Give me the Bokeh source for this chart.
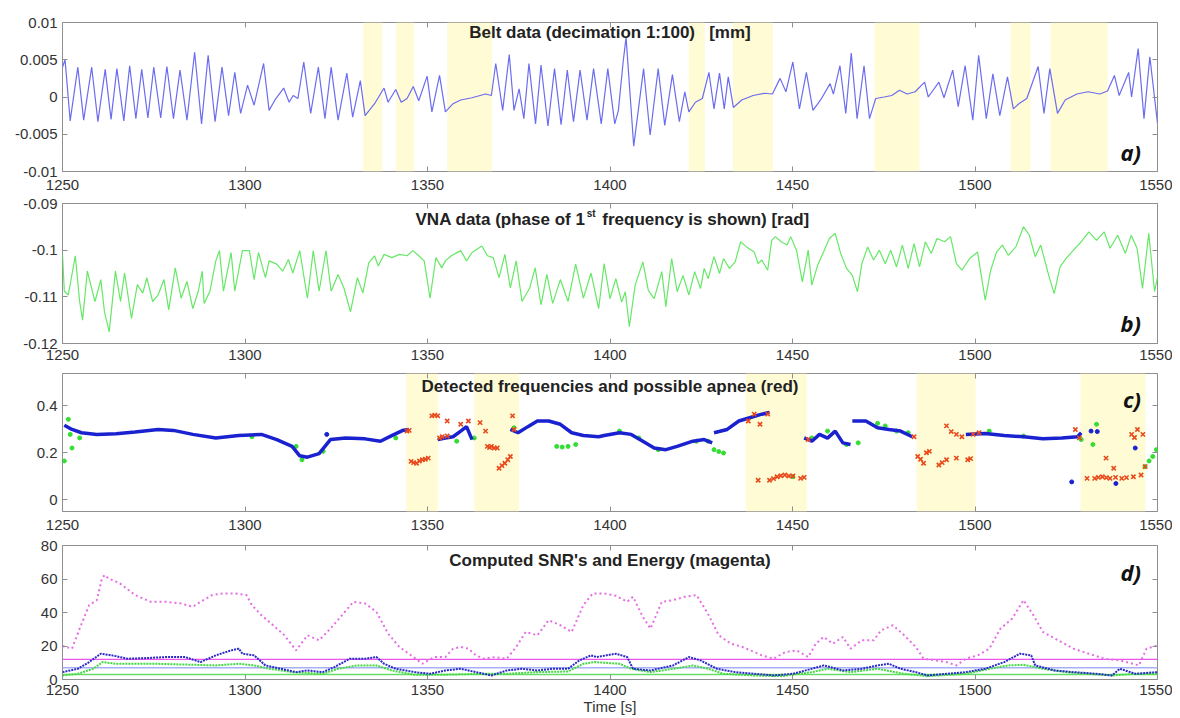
import math
from bokeh.plotting import figure
from bokeh.models import Range1d, FixedTicker, LinearAxis, BoxAnnotation, Label
from bokeh.layouts import column
from bokeh.embed import file_html
from bokeh.resources import INLINE

NAN = float("nan")
X_START, X_END = 1250, 1550
x_ticks = [1250, 1300, 1350, 1400, 1450, 1500, 1550]
x_label = "Time [s]"

# ---------------- a) belt data ----------------
belt_title = "Belt data (decimation 1:100)\u00a0\u00a0\u00a0[mm]"
belt_yticks = [-0.01, -0.005, 0, 0.005, 0.01]
belt_ylabels = ["-0.01", "-0.005", "0", "0.005", "0.01"]
belt_t = [1250.0, 1250.7, 1252.1, 1254.2, 1255.8, 1258.0, 1259.7, 1261.7, 1263.3, 1264.9,
          1266.8, 1268.4, 1270.1, 1271.7, 1273.4, 1275.0, 1276.9, 1278.6, 1280.4, 1282.2,
          1284.1, 1286.2, 1288.1, 1289.9, 1291.8, 1293.7, 1295.5, 1297.2, 1298.8, 1300.7,
          1302.5, 1305.1, 1306.6, 1308.2, 1310.6, 1312.1, 1313.2, 1314.5, 1316.1, 1318.0,
          1320.1, 1321.9, 1323.6, 1325.5, 1327.9, 1329.5, 1331.6, 1332.9, 1335.5, 1338.1,
          1339.2, 1341.3, 1342.8, 1344.4, 1346.1, 1347.6, 1349.9, 1351.2, 1353.3, 1354.9,
          1357.0, 1359.1, 1362.2, 1365.9, 1367.5, 1368.7, 1370.6, 1372.4, 1373.7, 1375.1,
          1376.4, 1377.8, 1379.6, 1381.1, 1383.0, 1384.8, 1386.6, 1388.3, 1390.0, 1391.8,
          1393.7, 1395.5, 1397.6, 1399.4, 1401.3, 1402.3, 1403.6, 1404.4, 1406.5, 1409.2,
          1411.0, 1413.2, 1415.0, 1417.1, 1419.0, 1420.5, 1421.6, 1423.4, 1425.3, 1427.1,
          1428.5, 1430.0, 1431.3, 1432.4, 1433.8, 1436.1, 1439.2, 1442.4, 1444.5, 1446.6,
          1448.2, 1450.1, 1451.9, 1453.8, 1455.6, 1457.7, 1460.3, 1461.2, 1463.0, 1464.6,
          1466.1, 1467.7, 1469.6, 1471.1, 1472.8, 1475.1, 1477.2, 1479.3, 1481.4, 1483.6,
          1486.2, 1487.2, 1490.1, 1491.5, 1493.9, 1495.4, 1497.3, 1499.4, 1501.0, 1503.1,
          1504.9, 1506.8, 1508.9, 1510.5, 1512.0, 1514.2, 1517.3, 1518.9, 1520.5, 1522.6,
          1524.7, 1527.9, 1531.0, 1534.2, 1536.3, 1538.2, 1539.5, 1542.1, 1542.9, 1544.7,
          1546.3, 1547.9, 1550.0]
belt_v = [0.0040, 0.0050, -0.0032, 0.0040, -0.0031, 0.0040, -0.0033, 0.0037, -0.0030, 0.0038,
          -0.0032, 0.0042, -0.0029, 0.0037, -0.0028, 0.0040, -0.0028, 0.0041, -0.0029, 0.0036,
          -0.0031, 0.0060, -0.0036, 0.0056, -0.0033, 0.0040, -0.0025, 0.0033, -0.0022, 0.0016,
          -0.0011, 0.0045, -0.0018, -0.0004, 0.0012, -0.0007, 0.0002, -0.0002, 0.0047, -0.0022,
          0.0040, -0.0029, 0.0040, -0.0031, 0.0032, -0.0027, 0.0022, -0.0025, -0.0009, 0.0012,
          -0.0007, 0.0010, -0.0007, -0.0002, 0.0014, -0.0005, 0.0028, -0.0020, 0.0029, -0.0020,
          -0.0009, -0.0004, -0.0001, 0.0004, 0.0002, 0.0045, -0.0018, 0.0057, -0.0018, 0.0011,
          -0.0029, 0.0045, -0.0036, 0.0043, -0.0039, 0.0038, -0.0037, 0.0036, -0.0033, 0.0036,
          -0.0031, 0.0038, -0.0036, 0.0038, -0.0036, -0.0018, 0.0047, 0.0080, -0.0066, 0.0038,
          -0.0051, 0.0038, -0.0038, 0.0030, -0.0033, 0.0007, -0.0020, -0.0007, -0.0002, 0.0033,
          -0.0016, 0.0032, -0.0016, 0.0027, -0.0014, -0.0004, 0.0002, 0.0005, 0.0004, 0.0025,
          0.0007, 0.0047, -0.0016, 0.0033, -0.0018, -0.0004, 0.0018, 0.0004, 0.0042, -0.0022,
          0.0059, -0.0029, 0.0042, -0.0029, -0.0002, 0.0000, 0.0002, 0.0009, 0.0004, 0.0007,
          0.0020, 0.0000, 0.0020, -0.0001, 0.0036, -0.0013, 0.0042, -0.0031, 0.0056, -0.0029,
          0.0031, -0.0025, 0.0027, -0.0016, -0.0009, -0.0002, 0.0041, -0.0022, 0.0038, -0.0022,
          -0.0004, 0.0004, 0.0007, 0.0004, 0.0008, 0.0029, 0.0002, 0.0033, 0.0000, 0.0065,
          -0.0029, 0.0054, -0.0035]
belt_shade_start = [1332.4, 1341.4, 1355.4, 1421.6, 1433.7, 1472.5, 1509.7, 1520.7]
belt_shade_end = [1337.6, 1346.3, 1367.7, 1426.0, 1444.6, 1484.8, 1515.2, 1536.3]

# ---------------- b) VNA data ----------------
vna_title_1 = "VNA data (phase of 1"
vna_title_sup = "st"
vna_title_2 = "frequency is shown) [rad]"
vna_yticks = [-0.12, -0.11, -0.1, -0.09]
vna_ylabels = ["-0.12", "-0.11", "-0.1", "-0.09"]
vna_t = [1250.0, 1250.5, 1251.6, 1253.5, 1254.7, 1255.5, 1256.8, 1258.9, 1260.5, 1261.5,
         1262.8, 1264.5, 1265.9, 1267.0, 1268.9, 1270.5, 1272.0, 1273.1, 1274.7, 1276.2,
         1277.8, 1279.1, 1280.9, 1282.5, 1284.1, 1285.7, 1287.2, 1288.3, 1288.8, 1290.4,
         1292.0, 1293.0, 1294.1, 1296.2, 1297.2, 1299.3, 1301.2, 1302.5, 1303.7, 1305.6,
         1306.6, 1308.7, 1310.3, 1311.9, 1313.1, 1315.0, 1317.1, 1318.7, 1320.3, 1322.2,
         1323.6, 1325.5, 1327.1, 1328.9, 1330.8, 1332.3, 1333.9, 1335.5, 1336.5, 1338.1,
         1340.2, 1342.3, 1344.4, 1346.0, 1347.6, 1349.1, 1350.7, 1352.3, 1353.9, 1354.9,
         1356.5, 1359.1, 1360.7, 1362.2, 1364.9, 1366.4, 1368.0, 1369.6, 1371.2, 1372.7,
         1374.3, 1375.9, 1378.0, 1379.5, 1381.1, 1382.7, 1384.3, 1386.4, 1388.5, 1390.6,
         1392.7, 1394.8, 1396.9, 1398.4, 1400.0, 1401.6, 1403.2, 1404.2, 1405.3, 1406.9,
         1409.0, 1410.5, 1412.1, 1414.2, 1415.3, 1416.9, 1418.4, 1420.0, 1421.6, 1423.2,
         1424.8, 1425.8, 1426.9, 1428.5, 1430.0, 1431.1, 1432.7, 1434.3, 1435.8, 1437.4,
         1439.5, 1440.6, 1441.6, 1443.2, 1444.3, 1445.3, 1446.9, 1448.5, 1449.5, 1451.1,
         1452.7, 1454.3, 1455.3, 1456.9, 1458.5, 1460.1, 1461.7, 1463.2, 1464.8, 1466.4,
         1467.8, 1469.0, 1470.6, 1472.2, 1473.8, 1475.4, 1476.9, 1478.5, 1480.1, 1481.7,
         1483.3, 1484.8, 1486.4, 1488.0, 1489.6, 1491.7, 1493.3, 1494.9, 1496.4, 1498.5,
         1500.7, 1502.8, 1504.3, 1505.9, 1507.5, 1509.1, 1511.2, 1513.3, 1514.9, 1516.5,
         1518.0, 1520.2, 1521.7, 1523.3, 1524.9, 1527.0, 1529.1, 1531.2, 1533.3, 1535.4,
         1537.0, 1539.1, 1541.2, 1542.8, 1544.4, 1545.9, 1547.6, 1549.2, 1550.0]
vna_v = [-0.1009, -0.1088, -0.1096, -0.1012, -0.1110, -0.1150, -0.1045, -0.1110, -0.1063, -0.1132,
         -0.1175, -0.1045, -0.1110, -0.1049, -0.1146, -0.1074, -0.1092, -0.1059, -0.1110, -0.1096,
         -0.1063, -0.1128, -0.1038, -0.1103, -0.1067, -0.1125, -0.1088, -0.1045, -0.1114, -0.1088,
         -0.1023, -0.1001, -0.1088, -0.1005, -0.1088, -0.1001, -0.1001, -0.1063, -0.1005, -0.1059,
         -0.1023, -0.1030, -0.1045, -0.1020, -0.1049, -0.1001, -0.1103, -0.1001, -0.1088, -0.1001,
         -0.1088, -0.1052, -0.1081, -0.1132, -0.1059, -0.1092, -0.1027, -0.1012, -0.1034, -0.1009,
         -0.1016, -0.1009, -0.1012, -0.1001, -0.1012, -0.1023, -0.1103, -0.1016, -0.1038, -0.1023,
         -0.1012, -0.1001, -0.1023, -0.1005, -0.0991, -0.1012, -0.1016, -0.1059, -0.1009, -0.1081,
         -0.1023, -0.1110, -0.1081, -0.1038, -0.1117, -0.1052, -0.1114, -0.1063, -0.1110, -0.1030,
         -0.1103, -0.1049, -0.1125, -0.1029, -0.1104, -0.1061, -0.1111, -0.1089, -0.1164, -0.1075,
         -0.1025, -0.1086, -0.1104, -0.1046, -0.1121, -0.1018, -0.1089, -0.1054, -0.1096, -0.1046,
         -0.1082, -0.1039, -0.1061, -0.1014, -0.1050, -0.1018, -0.1039, -0.1025, -0.0982, -0.0993,
         -0.1004, -0.1029, -0.1021, -0.1043, -0.0979, -0.0971, -0.0982, -0.0989, -0.0971, -0.1000,
         -0.1068, -0.1000, -0.1075, -0.1032, -0.1004, -0.0975, -0.0964, -0.1007, -0.1039, -0.1054,
         -0.1089, -0.1029, -0.0993, -0.1021, -0.1000, -0.1029, -0.1000, -0.1036, -0.0989, -0.1039,
         -0.0986, -0.1036, -0.0982, -0.1007, -0.0975, -0.0982, -0.0971, -0.1029, -0.1043, -0.1018,
         -0.1004, -0.1107, -0.1043, -0.1004, -0.0989, -0.1011, -0.0993, -0.0950, -0.0968, -0.1014,
         -0.0989, -0.1054, -0.1093, -0.1036, -0.1018, -0.1000, -0.0982, -0.0961, -0.0979, -0.0961,
         -0.0996, -0.0968, -0.1007, -0.0968, -0.0996, -0.1082, -0.0964, -0.1089, -0.1057]

# ---------------- c) detected frequencies ----------------
freq_title = "Detected frequencies and possible apnea (red)"
freq_yticks = [0, 0.2, 0.4]
freq_ylabels = ["0", "0.2", "0.4"]
freq_blue_t = [1250.5, 1252.6, 1255.2, 1259.4, 1264.7, 1269.9, 1276.2, 1280.4, 1285.7, 1292.0,
               1298.3, 1304.5, 1308.7, 1312.9, 1315.0, 1317.1, 1320.3, 1323.4, 1327.6, 1332.9,
               1337.1, 1340.2, 1343.4, 1344.9, NAN,
               1352.8, 1354.9, 1357.0, 1359.1, 1360.7, 1362.2, NAN,
               1372.7, 1374.8, 1377.5, 1380.1, 1383.2, 1386.4, 1389.5, 1392.7, 1396.9, 1398.4,
               1402.6, 1405.8, 1409.0, 1412.1, 1415.3, 1418.4, 1422.7, 1425.8, 1428.0, NAN,
               1428.5, 1432.1, 1435.3, 1438.5, 1441.6, 1443.7, NAN,
               1453.2, 1455.3, 1457.4, 1459.6, 1461.7, 1463.8, 1465.9, NAN,
               1466.4, 1470.1, 1473.3, 1476.4, 1479.6, 1482.8, NAN,
               1497.5, 1502.8, 1508.0, 1513.3, 1518.6, 1523.8, 1528.1, 1529.1]
freq_blue_f = [0.317, 0.299, 0.285, 0.278, 0.281, 0.288, 0.299, 0.295, 0.278, 0.263,
               0.273, 0.278, 0.256, 0.227, 0.187, 0.181, 0.196, 0.256, 0.263, 0.259,
               0.249, 0.273, 0.296, 0.299, NAN,
               0.256, 0.263, 0.268, 0.292, 0.311, 0.256, NAN,
               0.299, 0.285, 0.311, 0.335, 0.335, 0.321, 0.285, 0.273, 0.268, 0.273,
               0.285, 0.278, 0.249, 0.220, 0.213, 0.227, 0.249, 0.256, 0.242, NAN,
               0.285, 0.299, 0.335, 0.350, 0.364, 0.371, NAN,
               0.263, 0.249, 0.278, 0.262, 0.292, 0.242, 0.235, NAN,
               0.335, 0.335, 0.306, 0.299, 0.292, 0.268, NAN,
               0.278, 0.282, 0.273, 0.268, 0.259, 0.263, 0.268, 0.285]
freq_blue_single_t = [1322.4, 1526.5, 1531.8, 1533.5, 1538.6, 1543.9]
freq_blue_single_f = [0.278, 0.076, 0.292, 0.290, 0.069, 0.220]
freq_green_t = [1250.5, 1251.6, 1252.1, 1252.6, 1254.7, 1301.9, 1314.0, 1315.6, 1321.4, 1341.3,
                1358.0, 1362.8, 1373.7, 1385.4, 1386.9, 1388.5, 1390.6, 1402.6, 1407.9, 1413.2,
                1423.7, 1426.9, 1428.5, 1429.8, 1431.1, 1450.1, 1455.3, 1459.6, 1464.8, 1468.0,
                1473.3, 1475.4, 1478.5, 1481.7, 1503.9, 1513.3, 1529.1, 1532.3, 1533.3, 1546.6,
                1547.7, 1548.7, 1549.7]
freq_green_f = [0.165, 0.342, 0.278, 0.220, 0.263, 0.268, 0.227, 0.170, 0.206, 0.263,
                0.249, 0.263, 0.306, 0.227, 0.224, 0.227, 0.235, 0.292, 0.263, 0.213,
                0.249, 0.249, 0.213, 0.205, 0.199, 0.098, 0.263, 0.292, 0.235, 0.242,
                0.325, 0.314, 0.292, 0.285, 0.292, 0.271, 0.256, 0.235, 0.321, 0.141,
                0.165, 0.184, 0.213]
freq_red_t = [1344.4, 1345.0, 1345.5, 1346.2, 1347.0, 1347.8, 1348.6, 1349.4, 1350.2, 1351.2,
              1352.0, 1352.8, 1353.3, 1354.0, 1355.4, 1355.4, 1359.1, 1361.2, 1364.4, 1365.9,
              1366.4, 1367.0, 1367.5, 1368.3, 1369.1, 1369.6, 1370.4, 1371.2, 1372.0, 1372.7,
              1373.3, 1373.7,
              1437.9, 1439.5, 1441.1, 1443.2, 1440.6, 1443.7, 1444.8, 1445.8, 1446.8, 1447.9,
              1449.0, 1450.1, 1452.2, 1453.2, 1454.3,
              1483.3, 1484.3, 1485.1, 1485.9, 1486.7, 1487.5, 1490.1, 1491.0, 1492.2, 1494.9,
              1498.0, 1498.8, 1492.2, 1493.5, 1494.9, 1496.4, 1499.5, 1501.1,
              1527.5, 1528.6, 1530.7, 1532.8, 1533.8, 1534.9, 1536.0, 1537.0, 1538.5, 1540.2,
              1541.5, 1543.4, 1545.5, 1535.9, 1538.0, 1542.9, 1543.7, 1544.5, 1546.0, 1546.6]
freq_red_f = [0.292, 0.295, 0.163, 0.158, 0.155, 0.165, 0.170, 0.172, 0.177, 0.357,
              0.360, 0.357, 0.263, 0.268, 0.271, 0.335, 0.321, 0.335, 0.328, 0.292,
              0.227, 0.222, 0.227, 0.220, 0.220, 0.134, 0.145, 0.155, 0.170, 0.184,
              0.357, 0.299,
              0.335, 0.364, 0.321, 0.364, 0.083, 0.083, 0.090, 0.098, 0.102, 0.105,
              0.101, 0.101, 0.091, 0.095, 0.256,
              0.268, 0.184, 0.172, 0.155, 0.200, 0.206, 0.148, 0.158, 0.170, 0.177,
              0.170, 0.175, 0.314, 0.290, 0.278, 0.268, 0.278, 0.285,
              0.299, 0.263, 0.091, 0.091, 0.095, 0.098, 0.094, 0.091, 0.095, 0.091,
              0.094, 0.098, 0.105, 0.177, 0.134, 0.278, 0.265, 0.299, 0.278, 0.141]
freq_shade_start = [1344.2, 1362.8, 1437.2, 1484.0, 1528.9]
freq_shade_end = [1352.9, 1375.1, 1453.9, 1500.2, 1546.7]

# ---------------- d) SNR and energy ----------------
snr_title = "Computed SNR's and Energy (magenta)"
snr_yticks = [0, 20, 40, 60, 80]
snr_ylabels = ["0", "20", "40", "60", "80"]
energy_t = [1250.0, 1252.6, 1254.7, 1257.3, 1259.4, 1260.7, 1261.5, 1262.6, 1265.7, 1269.9,
            1274.1, 1278.3, 1282.5, 1285.7, 1287.8, 1291.0, 1294.1, 1297.2, 1300.4, 1301.9,
            1304.5, 1307.7, 1310.8, 1314.0, 1317.1, 1320.3, 1323.4, 1326.6, 1329.7, 1332.9,
            1336.0, 1339.2, 1342.3, 1345.5, 1348.6, 1351.8, 1354.9, 1357.0, 1359.1, 1361.2,
            1363.3, 1365.4, 1368.5, 1371.7, 1374.3, 1376.9, 1380.1, 1383.2, 1386.4, 1389.5,
            1392.7, 1395.3, 1398.4, 1401.6, 1404.7, 1406.3, 1409.0, 1411.1, 1414.2, 1417.3,
            1420.5, 1423.7, 1426.8, 1429.8, 1433.1, 1436.3, 1439.5, 1441.6, 1444.8, 1448.0,
            1451.1, 1454.3, 1456.4, 1458.5, 1461.1, 1463.8, 1465.9, 1469.0, 1472.2, 1474.3,
            1477.5, 1480.6, 1483.8, 1485.9, 1489.1, 1492.2, 1494.9, 1497.5, 1500.7, 1503.9,
            1507.0, 1510.2, 1513.3, 1516.0, 1518.6, 1522.8, 1527.0, 1531.2, 1535.4, 1539.7,
            1544.9, 1547.0, 1550.0]
energy_v = [20.0, 18.4, 30.4, 44.4, 47.4, 59.4, 62.4, 60.4, 57.4, 50.4,
            46.4, 46.4, 45.4, 43.4, 46.4, 50.4, 51.4, 51.4, 50.4, 44.4,
            38.4, 32.4, 26.4, 17.4, 26.4, 23.4, 30.4, 38.4, 46.4, 45.4,
            40.4, 27.4, 19.4, 14.4, 9.4, 13.4, 13.4, 18.4, 19.4, 18.4,
            14.4, 12.4, 13.4, 12.4, 19.4, 28.4, 26.4, 35.4, 32.4, 28.4,
            44.4, 51.4, 51.4, 50.0, 46.4, 49.4, 37.4, 30.4, 46.4, 47.4,
            49.4, 50.4, 39.4, 26.4, 21.4, 19.4, 16.4, 14.4, 12.4, 16.4,
            17.4, 13.4, 21.4, 25.4, 21.4, 25.4, 18.4, 23.4, 23.4, 29.4,
            32.4, 26.4, 19.4, 12.4, 11.4, 10.4, 8.4, 12.4, 14.4, 18.4,
            30.4, 36.4, 47.4, 38.4, 28.4, 23.4, 18.4, 15.4, 12.4, 11.4,
            8.4, 18.4, 20.4]
snr_blue_t = [1250.0, 1254.2, 1257.3, 1260.5, 1263.6, 1267.8, 1273.1, 1278.3, 1283.6, 1287.8,
              1292.0, 1296.2, 1298.3, 1299.3, 1302.5, 1305.6, 1309.8, 1314.0, 1317.1, 1321.3,
              1324.5, 1328.7, 1332.9, 1336.0, 1338.1, 1341.3, 1346.5, 1350.7, 1354.9, 1359.1,
              1363.3, 1367.5, 1371.7, 1375.9, 1380.1, 1384.3, 1388.5, 1391.6, 1394.8, 1396.3,
              1401.6, 1404.7, 1406.3, 1411.1, 1417.3, 1421.6, 1424.8, 1429.3, 1434.3, 1439.5,
              1444.8, 1450.1, 1455.3, 1458.5, 1463.8, 1469.0, 1473.3, 1476.4, 1479.6, 1483.8,
              1487.0, 1492.2, 1497.5, 1502.8, 1508.0, 1512.3, 1515.4, 1516.5, 1521.7, 1527.0,
              1533.3, 1537.5, 1539.7, 1543.9, 1550.0]
snr_blue_v = [4.4, 6.4, 10.4, 15.4, 14.4, 12.4, 12.8, 13.4, 13.4, 10.4,
              14.4, 17.4, 18.4, 15.4, 14.4, 8.4, 6.4, 4.4, 5.4, 4.4,
              7.4, 12.4, 12.4, 13.4, 9.4, 6.4, 4.4, 3.4, 5.4, 6.4,
              4.4, 2.4, 5.4, 6.4, 5.4, 6.4, 6.4, 11.4, 14.4, 13.4,
              15.4, 13.4, 6.4, 5.4, 8.4, 13.4, 11.4, 6.4, 4.4, 3.4,
              2.4, 3.4, 6.4, 8.4, 5.4, 6.4, 8.4, 9.4, 6.4, 4.4,
              2.4, 3.4, 4.4, 6.4, 10.4, 15.4, 14.4, 8.4, 5.4, 4.4,
              3.4, 2.4, 6.4, 3.4, 4.4]
snr_green_t = [1250.0, 1254.2, 1258.4, 1261.0, 1264.7, 1275.2, 1285.7, 1292.0, 1298.3, 1302.5,
               1306.7, 1313.0, 1321.3, 1325.5, 1330.7, 1336.0, 1340.2, 1346.5, 1353.8, 1364.3,
               1371.7, 1380.1, 1388.5, 1392.7, 1395.8, 1402.6, 1405.8, 1411.1, 1417.4, 1422.7,
               1426.9, 1431.1, 1439.5, 1446.9, 1455.3, 1459.6, 1465.9, 1473.3, 1480.6, 1487.0,
               1497.5, 1503.9, 1509.1, 1513.3, 1518.6, 1524.9, 1531.2, 1537.5, 1543.9, 1550.0]
snr_green_v = [2.4, 3.4, 6.4, 10.4, 9.4, 9.4, 8.8, 8.4, 9.4, 8.4,
               6.4, 4.4, 3.4, 6.4, 8.4, 8.4, 5.4, 2.8, 2.8, 3.4,
               3.4, 4.4, 4.8, 9.4, 10.4, 9.4, 6.4, 4.4, 6.4, 8.4,
               6.4, 3.4, 2.4, 2.0, 4.4, 6.4, 4.4, 6.4, 3.4, 2.0,
               3.4, 6.4, 8.4, 8.8, 6.4, 4.4, 3.4, 2.4, 3.4, 3.4]
snr_thresholds = [12, 7, 3]
snr_threshold_colors = ["#ee55ee", "#a6b0f8", "#66dd66"]

# ---------------- styling ----------------
FONT = "Liberation Sans"
FRAME = "#8f8f8f"
SHADE = "#fffbd4"
W = 1172
TITLE_SIZE = "17px"
TICK_SIZE = "15px"


def style_axis(ax, labels=True, standoff=5):
    ax.axis_line_color = None
    ax.major_tick_in = 5
    ax.major_tick_out = 0
    ax.major_tick_line_color = FRAME
    ax.minor_tick_line_color = None
    ax.major_label_text_font = FONT
    if labels:
        ax.major_label_text_color = "#333333"
        ax.major_label_text_font_size = TICK_SIZE
        ax.major_label_standoff = standoff
    else:
        ax.major_label_text_color = None
        ax.major_label_text_font_size = "1px"
        ax.major_label_standoff = 0


def make_fig(ylo, yhi, yticks, ylabels, h, top, bottom, standoff):
    p = figure(width=W, height=h, x_range=Range1d(X_START, X_END), y_range=Range1d(ylo, yhi),
               output_backend="svg", toolbar_location=None,
               min_border_left=62, min_border_right=15, min_border_top=top, min_border_bottom=bottom,
               background_fill_color="white", border_fill_color="white",
               outline_line_color=FRAME, outline_line_width=1)
    p.xgrid.visible = False
    p.ygrid.visible = False
    xb = p.xaxis[0]
    yl = p.yaxis[0]
    xb.ticker = FixedTicker(ticks=x_ticks)
    yl.ticker = FixedTicker(ticks=yticks)
    yl.major_label_overrides = dict(zip(yticks, ylabels))
    style_axis(xb, True, standoff)
    style_axis(yl, True, 5)
    ax_top = LinearAxis(ticker=FixedTicker(ticks=x_ticks))
    style_axis(ax_top, False)
    p.add_layout(ax_top, "above")
    ax_right = LinearAxis(ticker=FixedTicker(ticks=yticks))
    style_axis(ax_right, False)
    p.add_layout(ax_right, "right")
    return p, xb


def add_title(p, x, y, text):
    p.add_layout(Label(x=x, y=y, text=text, text_align="center", text_baseline="middle",
                       text_font=FONT, text_font_style="bold", text_font_size=TITLE_SIZE,
                       text_color="#222222"))


def add_tag(p, y, text):
    p.add_layout(Label(x=1545.5, y=y, text=text, text_align="right", text_baseline="middle",
                       text_font="Open Sans", text_font_style="bold italic", text_font_size="22px",
                       text_color="#111111"))


def add_shades(p, starts, ends):
    for s, e in zip(starts, ends):
        p.add_layout(BoxAnnotation(left=s, right=e, fill_color=SHADE, fill_alpha=1.0,
                                   line_color=None, level="underlay"))


# a)
pa, _ = make_fig(-0.01, 0.01, belt_yticks, belt_ylabels, 196, 22, 25, 8)
add_shades(pa, belt_shade_start, belt_shade_end)
pa.line(belt_t, belt_v, line_color="#6c6cf0", line_width=1.2)
add_title(pa, 1400, 0.0086, belt_title)
add_tag(pa, -0.0074, "a)")

# b)
pb, _ = make_fig(-0.12, -0.09, vna_yticks, vna_ylabels, 170, 7, 23, 6)
pb.line(vna_t, vna_v, line_color="#66e866", line_width=1.2)
pb.add_layout(Label(x=1393.3, y=-0.0934, text=vna_title_1, text_align="right",
                    text_baseline="middle", text_font=FONT, text_font_style="bold",
                    text_font_size=TITLE_SIZE, text_color="#222222"))
pb.add_layout(Label(x=1393.6, y=-0.0921, text=vna_title_sup, text_align="left",
                    text_baseline="middle", text_font=FONT, text_font_style="bold",
                    text_font_size="10px", text_color="#222222"))
pb.add_layout(Label(x=1397.9, y=-0.0934, text=vna_title_2, text_align="left",
                    text_baseline="middle", text_font=FONT, text_font_style="bold",
                    text_font_size=TITLE_SIZE, text_color="#222222"))
add_tag(pb, -0.1156, "b)")

# c)
pc, _ = make_fig(-0.05, 0.537, freq_yticks, freq_ylabels, 171, 7, 26, 8)
add_shades(pc, freq_shade_start, freq_shade_end)
pc.scatter(freq_green_t, freq_green_f, size=4, marker="circle", fill_color="#33dd33",
           line_color="#33dd33")
pc.line(freq_blue_t, freq_blue_f, line_color="#1a22d0", line_width=3.5)
pc.scatter(freq_blue_single_t, freq_blue_single_f, size=4, marker="circle",
           fill_color="#1a22d0", line_color="#1a22d0")
pc.scatter(freq_red_t, freq_red_f, size=6, marker="x", line_color="#e84a1c", line_width=1.6)
add_title(pc, 1400, 0.48, freq_title)
add_tag(pc, 0.43, "c)")

# d)
pd, xd = make_fig(0, 80, snr_yticks, snr_ylabels, 180, 8, 38, 5)
for thr, col in zip(snr_thresholds, snr_threshold_colors):
    pd.line([X_START, X_END], [thr, thr], line_color=col, line_width=1.4)
pd.line(energy_t, energy_v, line_color="#e46ee4", line_width=2, line_dash="2 3")
pd.line(snr_green_t, snr_green_v, line_color="#44d844", line_width=2, line_dash="2 1")
pd.line(snr_blue_t, snr_blue_v, line_color="#2a2ac8", line_width=2, line_dash="2 1")
xd.axis_label = x_label
xd.axis_label_text_font = FONT
xd.axis_label_text_font_style = "normal"
xd.axis_label_text_font_size = "15px"
xd.axis_label_text_color = "#333333"
xd.axis_label_standoff = 0
add_title(pd, 1400, 71, snr_title)
add_tag(pd, 64, "d)")

layout = column(pa, pb, pc, pd, spacing=0)
open("out.html", "w").write(file_html(layout, INLINE))
